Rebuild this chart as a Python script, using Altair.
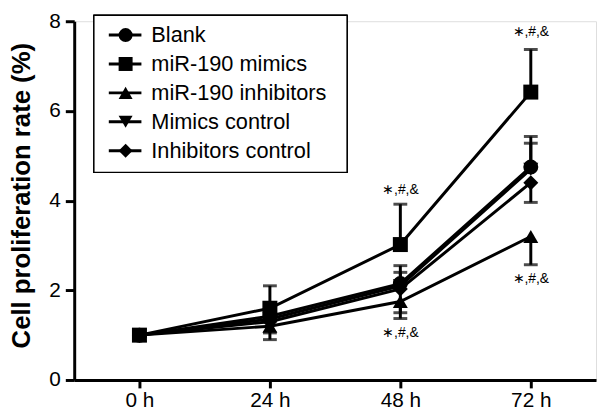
import altair as alt
import pandas as pd

times = ["0 h", "24 h", "48 h", "72 h"]
series = ["Blank", "miR-190 mimics", "miR-190 inhibitors", "Mimics control", "Inhibitors control"]
shapes = ["circle", "square", "triangle-up", "triangle-down", "diamond"]

blank = [1.0, 1.42, 2.15, 4.75]
mimics = [1.0, 1.6, 3.02, 6.42]
inhibitors = [1.0, 1.2, 1.75, 3.2]
mimics_control = [1.0, 1.36, 2.1, 4.7]
inhibitors_control = [1.0, 1.3, 2.03, 4.4]

blank_err = [0.03, 0.25, 0.4, 0.68]
mimics_err = [0.03, 0.5, 0.9, 0.95]
inhibitors_err = [0.03, 0.3, 0.38, 0.63]
mimics_control_err = [0.03, 0.25, 0.3, 0.58]
inhibitors_control_err = [0.03, 0.25, 0.53, 0.44]
# error bar direction (+1 drawn upward, -1 drawn downward)
err_dir = [1, 1, -1, 1, -1]

annot_time = ["48 h", "48 h", "72 h", "72 h"]
annot_y = [4.23, 1.05, 7.75, 2.25]
annot_text = ["∗,#,&"] * 4

values = [blank, mimics, inhibitors, mimics_control, inhibitors_control]
errors = [blank_err, mimics_err, inhibitors_err, mimics_control_err, inhibitors_control_err]

rows = []
for s, v, e, d in zip(series, values, errors, err_dir):
    for t, vv, ee in zip(times, v, e):
        rows.append({"time": t, "series": s, "value": vv, "end": vv + d * ee})
df = pd.DataFrame(rows)

ann = pd.DataFrame({"time": annot_time, "y": annot_y, "text": annot_text})
leg = pd.DataFrame({"series": series, "row": list(range(len(series)))})

FONT = "Liberation Sans"

x_enc = alt.X("time:O", sort=times, scale=alt.Scale(type="point", padding=0.5),
              axis=alt.Axis(title=None, labelAngle=0, labelFontSize=21, labelFont=FONT,
                            labelColor="black", domainColor="black", domainWidth=3,
                            tickColor="black", tickWidth=3, tickSize=8, labelPadding=2))
y_enc = alt.Y("value:Q", scale=alt.Scale(domain=[0, 8]),
              axis=alt.Axis(title="Cell proliferation rate (%)", values=[0, 2, 4, 6, 8],
                            titleFontSize=26, titleFont=FONT, titleFontWeight="bold",
                            titleColor="black", titleX=-40, titleY=176, titleBaseline="bottom",
                            labelFontSize=21, labelFont=FONT, labelColor="black",
                            domainColor="black", domainWidth=3, tickColor="black",
                            tickWidth=3, tickSize=9, labelPadding=5, grid=False))

shape_scale = alt.Scale(domain=series, range=shapes)

base = alt.Chart(df)
lines = base.mark_line(color="black", strokeWidth=3).encode(
    x=x_enc, y=y_enc, detail="series:N")
bars = base.mark_rule(color="black", strokeWidth=3).encode(
    x=alt.X("time:O", sort=times), y="value:Q", y2="end:Q")
caps = base.mark_tick(color="black", thickness=3, size=14, orient="horizontal").encode(
    x=alt.X("time:O", sort=times), y=alt.Y("end:Q"))
points = base.mark_point(filled=True, color="black", size=230, opacity=1).encode(
    x=alt.X("time:O", sort=times), y="value:Q",
    shape=alt.Shape("series:N", scale=shape_scale, legend=None))
texts = alt.Chart(ann).mark_text(fontSize=14, font=FONT, color="black", baseline="middle").encode(
    x=alt.X("time:O", sort=times), y=alt.Y("y:Q"), text="text:N")

main = alt.layer(lines, bars, caps, points, texts)

# Custom legend
box = alt.Chart(leg).mark_rect(fill="white", stroke="black", strokeWidth=1.2).encode(
    x=alt.value(20), x2=alt.value(276), y=alt.value(-6), y2=alt.value(153))
leg_y = alt.Y("row:Q", scale=alt.Scale(domain=[0, 4], range=[14, 131]), axis=None)
leg_line = alt.Chart(leg).mark_rule(color="black", strokeWidth=3).encode(
    x=alt.value(35), x2=alt.value(68), y=leg_y)
leg_pt = alt.Chart(leg).mark_point(filled=True, color="black", size=200, opacity=1).encode(
    x=alt.value(52), y=leg_y,
    shape=alt.Shape("series:N", scale=shape_scale, legend=None))
leg_txt = alt.Chart(leg).mark_text(align="left", baseline="middle", fontSize=22, font=FONT,
                                   color="black").encode(
    x=alt.value(78), y=leg_y, text="series:N")
legend = alt.layer(box, leg_line, leg_pt, leg_txt)

chart = alt.layer(main, legend).resolve_scale(y="independent").properties(
    width=528, height=363,
    autosize=alt.AutoSizeParams(type="none"),
    padding={"left": 67, "top": 11, "right": 2, "bottom": 30},
).configure_view(stroke=None).configure(background="white")

chart.save("out.html", embed_options={"renderer": "svg", "actions": False})
